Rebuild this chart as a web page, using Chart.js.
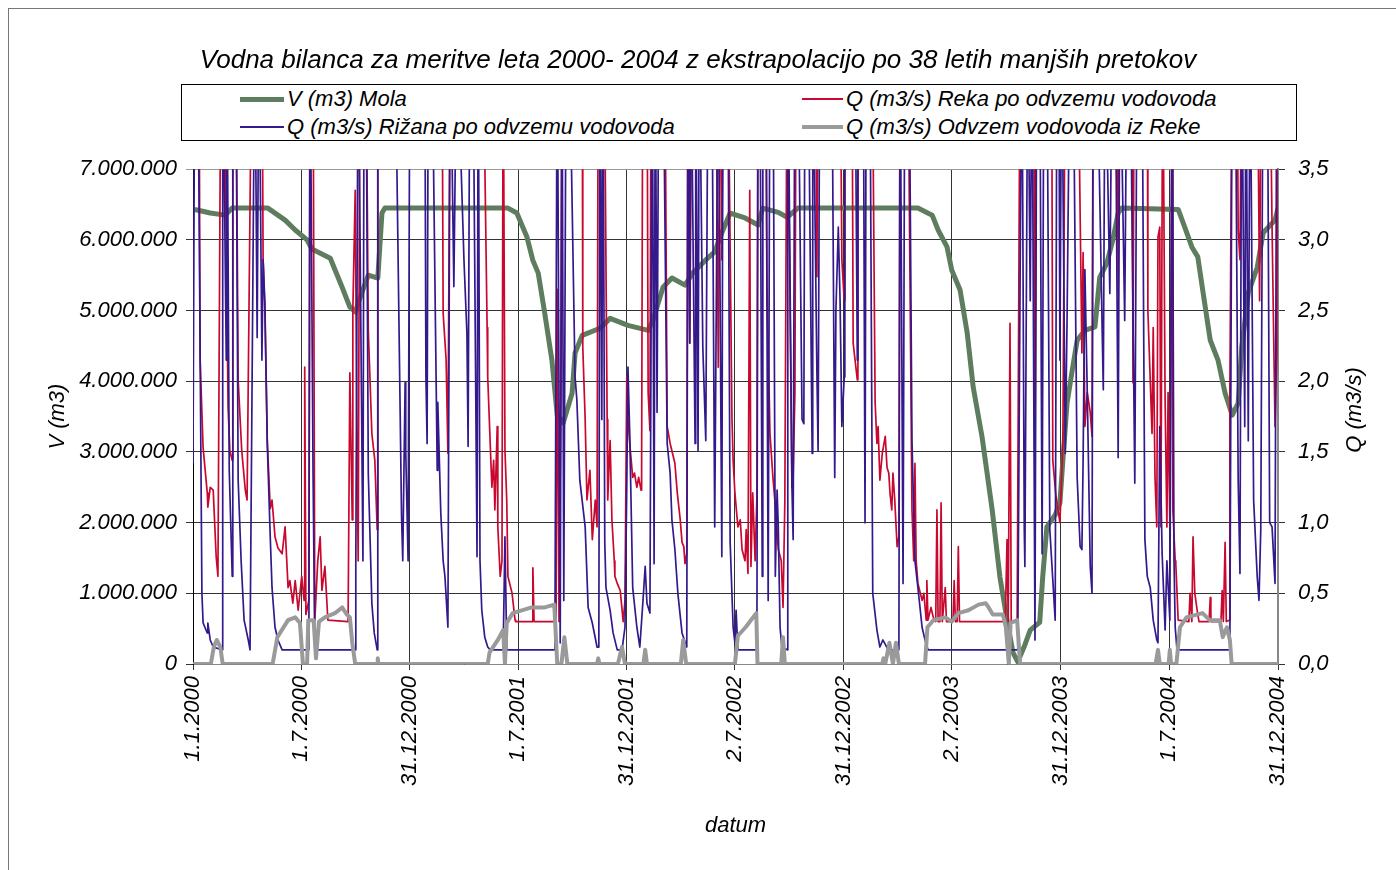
<!DOCTYPE html>
<html>
<head>
<meta charset="utf-8">
<script src="https://cdn.jsdelivr.net/npm/chart.js@4.4.0/dist/chart.umd.min.js"></script>
<style>
  body { margin: 0; background: #fff; overflow: hidden; }
  #wrap { position: relative; width: 1396px; height: 870px; }
  #frame { position: absolute; left: 8px; top: 8px; width: 1500px; height: 1000px; border: 1px solid #777; }
  #legend { position: absolute; left: 181px; top: 84px; width: 1114px; height: 55px; border: 1px solid #000; background: #fff;
            font: italic 22px "Liberation Sans", Arial, sans-serif; }
  .item { position: absolute; height: 26px; line-height: 26px; white-space: nowrap; }
  .swatch { position: absolute; }
  canvas { position: absolute; left: 0; top: 0; }
</style>
</head>
<body>
<div id="wrap">
  <div id="frame"></div>
  <canvas id="myChart" width="1396" height="870"></canvas>
  <div id="legend"></div>
</div>
<script>
// day 0 = 1.1.2000, day 1826 = 31.12.2004
const tickDays = [0, 182, 365, 547, 730, 912, 1095, 1277, 1460, 1643, 1826];
const tickLabels = ["1.1.2000", "1.7.2000", "31.12.2000", "1.7.2001", "31.12.2001", "2.7.2002",
                    "31.12.2002", "2.7.2003", "31.12.2003", "1.7.2004", "31.12.2004"];

const OFF = 4.5; // peaks above 3,5 m3/s, clipped at the top of the plot

// V (m3) Mola  [day, m3]
const molaV = [[3,6430000],[29,6380000],[54,6350000],[66,6450000],[126,6450000],[155,6280000],[172,6140000],[192,6000000],
  [200,5870000],[231,5740000],[251,5330000],[264,5050000],[273,4980000],[284,5250000],[295,5500000],[311,5460000],
  [318,6380000],[323,6450000],[530,6450000],[545,6380000],[562,6040000],[572,5710000],[581,5530000],[592,4960000],
  [604,4300000],[613,3520000],[623,3410000],[638,3830000],[643,4400000],[655,4650000],[685,4750000],[702,4890000],
  [732,4790000],[766,4720000],[774,4860000],[791,5330000],[806,5460000],[828,5360000],[841,5530000],[862,5710000],
  [878,5830000],[890,6100000],[904,6380000],[929,6310000],[951,6210000],[959,6450000],[985,6390000],[1000,6320000],
  [1018,6450000],[1220,6450000],[1244,6350000],[1254,6140000],[1269,5900000],[1277,5570000],[1291,5290000],
  [1303,4680000],[1313,3920000],[1328,3210000],[1345,2180000],[1358,1230000],[1370,620000],[1380,160000],[1388,30000],
  [1400,270000],[1409,480000],[1425,590000],[1430,1230000],[1437,1940000],[1451,2110000],[1459,2280000],[1464,2890000],
  [1471,3690000],[1479,4120000],[1488,4580000],[1501,4720000],[1518,4770000],[1526,5470000],[1538,5670000],
  [1548,6000000],[1557,6380000],[1563,6450000],[1658,6430000],[1669,6180000],[1681,5900000],[1691,5760000],
  [1700,5250000],[1712,4580000],[1725,4300000],[1737,3830000],[1749,3520000],[1759,3690000],[1765,4480000],
  [1776,5250000],[1791,5610000],[1801,6100000],[1821,6280000],[1826,6450000]];

// Q (m3/s) Reka po odvzemu vodovoda
const rekaQ = [[0,OFF],[10,OFF],[12,2.15],[17,1.53],[24,1.21],[25,1.11],[29,1.25],[34,1.23],[39,0.76],[42,0.62],[47,OFF],
  [52,OFF],[59,1.82],[62,1.51],[66,1.44],[67,OFF],[72,OFF],[76,2.01],[82,1.51],[88,1.23],[91,1.16],[99,OFF],[116,OFF],
  [118,2.86],[121,2.50],[125,1.58],[130,1.10],[133,1.16],[138,0.90],[143,0.82],[150,0.78],[155,0.97],[160,0.54],
  [163,0.59],[168,0.43],[172,0.59],[177,0.38],[183,0.62],[187,0.45],[188,2.10],[190,0.35],[195,0.45],[197,OFF],
  [202,OFF],[205,0.31],[210,0.73],[214,0.90],[217,0.52],[222,0.69],[227,0.31],[261,0.30],[264,2.06],[268,1.02],
  [269,2.50],[273,3.35],[276,1.51],[278,0.73],[281,OFF],[291,OFF],[295,2.36],[301,1.63],[306,1.44],[310,0.95],
  [311,OFF],[419,OFF],[421,2.48],[426,2.15],[429,1.49],[433,OFF],[488,OFF],[495,2.38],[496,2.03],[500,1.58],
  [503,1.25],[506,1.44],[508,1.09],[512,1.68],[513,0.97],[517,0.62],[520,0.73],[522,OFF],[523,OFF],[525,1.51],
  [528,1.16],[530,0.62],[537,0.50],[542,0.31],[543,0.30],[571,0.30],[572,0.68],[574,0.30],[611,0.30],[613,2.65],
  [616,0.30],[619,1.87],[621,OFF],[655,OFF],[656,2.24],[660,1.73],[663,1.16],[668,1.37],[672,0.88],[677,1.16],
  [680,0.97],[682,OFF],[692,OFF],[697,1.73],[698,1.16],[702,1.58],[705,1.02],[709,0.73],[710,0.62],[714,0.57],
  [719,0.52],[724,0.30],[727,0.45],[730,2.03],[732,1.73],[735,1.56],[740,1.32],[743,1.35],[747,1.25],[750,1.32],
  [754,1.23],[755,1.37],[757,OFF],[764,OFF],[766,1.92],[769,1.65],[771,OFF],[794,OFF],[798,1.68],[803,1.56],
  [811,1.42],[815,1.21],[820,1.02],[823,0.86],[826,0.83],[828,0.71],[831,0.78],[833,OFF],[836,2.27],[840,OFF],
  [880,OFF],[884,2.10],[887,OFF],[890,2.86],[893,OFF],[900,OFF],[907,1.75],[909,1.44],[912,1.21],[917,0.97],
  [921,1.02],[924,0.81],[929,0.73],[931,0.95],[934,0.64],[937,3.35],[939,0.69],[942,1.21],[946,0.73],[949,1.18],
  [951,OFF],[964,OFF],[966,2.67],[971,1.63],[976,1.32],[981,1.07],[985,0.81],[990,0.73],[993,0.40],[996,1.14],
  [1000,OFF],[1008,1.25],[1010,1.32],[1013,1.92],[1015,OFF],[1048,OFF],[1050,2.74],[1052,OFF],[1089,OFF],
  [1092,2.86],[1096,2.57],[1097,OFF],[1109,OFF],[1111,2.27],[1118,2.01],[1119,OFF],[1143,OFF],[1148,1.85],
  [1151,1.56],[1153,1.68],[1156,1.30],[1160,1.49],[1165,1.61],[1168,1.39],[1171,1.35],[1173,1.21],[1176,1.09],
  [1178,1.35],[1181,1.16],[1185,0.83],[1188,0.90],[1190,OFF],[1203,OFF],[1210,1.09],[1213,0.73],[1215,1.42],
  [1217,0.73],[1220,0.57],[1227,0.45],[1230,0.50],[1234,0.31],[1235,0.59],[1237,0.31],[1242,0.40],[1247,0.31],
  [1250,0.30],[1252,1.09],[1254,0.30],[1257,0.30],[1259,1.14],[1261,0.30],[1266,0.54],[1268,0.30],[1279,0.30],
  [1281,0.59],[1283,0.30],[1286,0.30],[1288,0.83],[1290,0.30],[1367,0.30],[1370,0.88],[1372,0.30],[1373,0.30],
  [1375,2.41],[1377,0.30],[1387,0.30],[1392,OFF],[1415,OFF],[1417,1.09],[1419,OFF],[1445,OFF],[1447,1.44],
  [1452,1.20],[1459,1.00],[1464,1.58],[1468,OFF],[1489,OFF],[1496,2.20],[1498,2.91],[1501,1.68],[1505,1.92],
  [1510,1.78],[1513,1.61],[1515,OFF],[1555,OFF],[1557,2.62],[1559,OFF],[1580,OFF],[1582,1.99],[1584,OFF],
  [1606,OFF],[1607,2.50],[1614,1.63],[1616,2.38],[1619,1.32],[1622,0.97],[1624,3.02],[1627,3.09],[1629,0.97],
  [1632,OFF],[1636,1.87],[1639,0.97],[1641,1.92],[1644,0.97],[1648,OFF],[1649,1.09],[1653,0.73],[1654,0.71],
  [1658,0.31],[1676,0.30],[1678,0.50],[1681,0.30],[1683,0.90],[1686,0.50],[1690,0.38],[1693,0.30],[1710,0.30],
  [1712,0.47],[1713,0.30],[1730,0.30],[1732,0.52],[1734,0.30],[1735,0.30],[1737,0.86],[1739,0.30],[1744,0.31],
  [1745,1.94],[1749,OFF],[1757,OFF],[1759,3.07],[1762,2.86],[1765,OFF],[1791,OFF],[1795,2.57],[1798,OFF],
  [1812,OFF],[1816,3.09],[1821,1.68],[1824,2.20],[1826,OFF]];

// Q (m3/s) Rižana po odvzemu vodovoda
const rizanaQ = [[0,1.42],[3,OFF],[8,OFF],[15,0.50],[17,0.29],[24,0.22],[25,0.29],[29,0.17],[34,0.12],[49,0.10],[50,OFF],
  [56,2.15],[57,OFF],[61,1.37],[66,0.62],[67,OFF],[72,OFF],[76,1.30],[81,0.73],[86,0.31],[93,0.17],[96,0.10],[104,OFF],
  [108,2.31],[111,OFF],[116,2.15],[118,2.86],[121,2.55],[125,1.56],[130,0.90],[133,0.54],[138,0.26],[143,0.17],
  [150,0.10],[195,0.10],[197,OFF],[202,1.37],[205,0.10],[273,0.10],[274,0.69],[278,OFF],[286,0.73],[288,OFF],
  [291,OFF],[295,1.35],[301,0.43],[305,0.22],[310,0.10],[311,OFF],[340,OFF],[351,1.04],[353,0.73],[357,1.99],
  [358,1.51],[362,0.73],[365,OFF],[390,OFF],[392,2.03],[394,1.56],[396,OFF],[402,OFF],[411,1.37],[412,1.85],
  [417,1.07],[421,0.73],[424,0.62],[429,0.26],[433,OFF],[439,2.67],[444,OFF],[456,2.86],[461,2.34],[463,1.54],
  [466,OFF],[471,OFF],[478,0.76],[480,OFF],[483,0.73],[486,0.38],[491,0.19],[496,0.12],[500,0.10],[522,0.10],
  [525,0.90],[528,0.10],[609,0.10],[613,OFF],[618,0.15],[621,OFF],[624,0.45],[628,OFF],[633,OFF],[643,2.03],
  [646,1.87],[651,1.30],[660,0.97],[665,0.40],[672,0.29],[680,0.12],[683,0.12],[685,OFF],[688,1.73],[690,OFF],
  [693,0.86],[695,0.54],[702,0.38],[707,0.22],[714,0.10],[722,0.10],[727,0.26],[730,1.25],[732,2.10],[735,1.63],
  [740,0.54],[747,0.26],[752,0.12],[757,0.43],[761,0.69],[764,0.43],[769,0.36],[773,OFF],[776,0.71],[778,OFF],
  [781,1.78],[784,OFF],[791,OFF],[798,1.56],[803,1.35],[806,1.02],[811,0.81],[816,0.50],[823,0.22],[831,0.12],
  [833,OFF],[836,2.27],[838,OFF],[845,1.56],[846,OFF],[850,1.51],[852,OFF],[858,2.24],[863,1.58],[867,OFF],
  [873,OFF],[878,0.97],[884,OFF],[890,0.76],[892,OFF],[900,OFF],[904,0.86],[909,0.26],[912,0.15],[914,0.38],
  [917,0.10],[949,0.10],[951,OFF],[954,OFF],[958,0.62],[959,OFF],[964,OFF],[968,0.45],[971,OFF],[976,OFF],
  [980,0.62],[983,1.23],[985,0.97],[988,0.26],[991,0.12],[1000,0.10],[1001,OFF],[1008,1.25],[1010,0.88],
  [1013,OFF],[1018,OFF],[1025,1.73],[1028,1.70],[1030,OFF],[1035,OFF],[1042,1.49],[1043,OFF],[1050,2.06],
  [1052,1.51],[1055,OFF],[1075,OFF],[1080,1.32],[1082,2.50],[1086,3.09],[1089,2.57],[1092,1.68],[1096,2.03],
  [1097,OFF],[1114,OFF],[1118,2.15],[1119,OFF],[1128,OFF],[1131,1.00],[1133,OFF],[1139,OFF],[1144,0.50],
  [1151,0.24],[1156,0.12],[1161,0.17],[1170,0.10],[1188,0.10],[1190,OFF],[1195,0.57],[1198,OFF],[1205,OFF],
  [1210,1.58],[1215,0.73],[1220,0.54],[1227,0.26],[1232,0.17],[1237,0.10],[1388,0.10],[1392,2.74],[1395,OFF],
  [1399,0.95],[1400,0.69],[1405,OFF],[1409,2.57],[1412,OFF],[1417,0.17],[1420,OFF],[1425,OFF],[1429,0.78],
  [1432,OFF],[1437,OFF],[1442,0.95],[1451,0.31],[1454,OFF],[1457,OFF],[1459,2.15],[1462,OFF],[1468,1.49],
  [1471,2.43],[1476,OFF],[1481,OFF],[1488,1.32],[1493,0.83],[1496,0.81],[1498,1.44],[1501,2.79],[1505,1.92],
  [1510,0.69],[1513,0.50],[1515,OFF],[1521,OFF],[1530,2.38],[1532,1.94],[1535,OFF],[1543,2.62],[1547,OFF],
  [1552,OFF],[1557,1.46],[1560,OFF],[1568,2.43],[1572,OFF],[1577,OFF],[1585,1.28],[1589,OFF],[1597,OFF],
  [1602,0.88],[1606,0.62],[1611,0.54],[1616,0.31],[1622,0.17],[1624,0.15],[1627,1.68],[1631,0.78],[1636,0.24],
  [1639,0.73],[1644,0.31],[1648,OFF],[1651,0.73],[1653,0.26],[1656,0.10],[1745,0.10],[1749,OFF],[1754,OFF],
  [1759,1.30],[1762,0.64],[1765,OFF],[1770,1.68],[1772,OFF],[1776,1.58],[1779,OFF],[1785,1.16],[1791,0.62],
  [1794,0.45],[1797,0.95],[1801,OFF],[1808,OFF],[1812,1.00],[1816,0.97],[1821,0.57],[1824,OFF],[1826,OFF]];

// Q (m3/s) Odvzem vodovoda iz Reke
const odvzemQ = [[0,0],[30,0],[35,0.12],[40,0.17],[46,0.12],[50,0],[134,0],[142,0.19],[160,0.31],[172,0.33],[180,0.29],
  [185,0],[192,0],[194,0.31],[203,0.31],[207,0.04],[212,0.30],[222,0.33],[239,0.36],[251,0.40],[259,0.35],[264,0.33],
  [268,0.15],[273,0],[310,0],[311,0.04],[312,0],[496,0],[499,0.08],[513,0.17],[522,0.24],[525,0],[528,0.29],
  [538,0.36],[570,0.40],[592,0.40],[608,0.42],[613,0],[620,0],[625,0.19],[630,0],[680,0],[682,0.04],[684,0],
  [715,0],[722,0.12],[727,0],[758,0],[761,0.10],[764,0],[821,0],[825,0.17],[830,0],[912,0],[917,0.20],[930,0.26],
  [948,0.36],[950,0],[990,0],[993,0.19],[996,0],[1160,0],[1162,0.04],[1165,0],[1172,0.15],[1178,0],[1183,0.15],
  [1188,0],[1232,0],[1236,0.26],[1246,0.31],[1266,0.33],[1277,0.30],[1288,0.36],[1305,0.38],[1322,0.42],
  [1334,0.43],[1339,0.40],[1346,0.35],[1363,0.35],[1368,0.26],[1373,0],[1376,0.29],[1387,0.31],[1392,0],
  [1620,0],[1624,0.10],[1627,0],[1642,0],[1644,0.10],[1646,0],[1655,0],[1661,0.26],[1672,0.33],[1699,0.36],
  [1711,0.31],[1728,0.31],[1733,0.19],[1740,0.26],[1745,0.17],[1748,0],[1826,0]];

const FONT = '"Liberation Sans", Arial, sans-serif';
const toXY = arr => arr.map(p => ({ x: p[0], y: p[1] }));

// right axis title reads bottom-to-top, so draw it ourselves
const rightTitle = {
  id: 'rightTitle',
  afterDraw(chart) {
    const ctx = chart.ctx;
    const s = chart.scales.yQ;
    ctx.save();
    ctx.translate(s.right - 41, 410);
    ctx.rotate(-Math.PI / 2);
    ctx.font = 'italic 22px ' + FONT;
    ctx.fillStyle = '#000';
    ctx.textAlign = 'center';
    ctx.textBaseline = 'middle';
    ctx.fillText('Q (m3/s)', 0, 0);
    ctx.restore();
  }
};

const ctx = document.getElementById('myChart').getContext('2d');
const myChart = new Chart(ctx, {
  type: 'line',
  data: {
    datasets: [
      { label: 'V (m3) Mola', data: toXY(molaV), yAxisID: 'yV', borderColor: '#5e7d5e', borderWidth: 5, order: 4 },
      { label: 'Q (m3/s) Reka po odvzemu vodovoda', data: toXY(rekaQ), yAxisID: 'yQ', borderColor: '#c8082e', borderWidth: 1.7, order: 3 },
      { label: 'Q (m3/s) Rižana po odvzemu vodovoda', data: toXY(rizanaQ), yAxisID: 'yQ', borderColor: '#33198c', borderWidth: 1.7, order: 2 },
      { label: 'Q (m3/s) Odvzem vodovoda iz Reke', data: toXY(odvzemQ), yAxisID: 'yQ', borderColor: '#9a9a9a', borderWidth: 4, order: 1 }
    ]
  },
  options: {
    responsive: false,
    animation: false,
    devicePixelRatio: 1,
    elements: { point: { radius: 0 }, line: { tension: 0, borderJoinStyle: 'round' } },
    layout: { padding: 0 },
    plugins: {
      legend: { display: false },
      tooltip: { enabled: false },
      title: {
        display: true,
        text: 'Vodna bilanca za meritve leta 2000- 2004 z ekstrapolacijo po 38 letih manjših pretokov',
        color: '#000',
        font: { family: FONT, size: 26, style: 'italic', weight: 'normal' },
        padding: { top: 45, bottom: 93 }
      }
    },
    scales: {
      x: {
        type: 'linear',
        min: 0, max: 1826,
        afterBuildTicks: s => { s.ticks = tickDays.map(v => ({ value: v })); },
        afterFit: s => { s.height = 206; },
        ticks: {
          autoSkip: false, minRotation: 90, maxRotation: 90, padding: 6, color: '#000',
          font: { family: FONT, size: 22, style: 'italic' },
          callback: (v, i) => tickLabels[i]
        },
        grid: { color: '#333', lineWidth: 1, tickLength: 6 },
        border: { color: '#888', width: 1 },
        title: { display: true, text: 'datum', color: '#000', font: { family: FONT, size: 22, style: 'italic' }, padding: { bottom: 31 } }
      },
      yV: {
        position: 'left',
        min: 0, max: 7000000,
        afterBuildTicks: s => { s.ticks = [0,1,2,3,4,5,6,7].map(v => ({ value: v * 1000000 })); },
        afterFit: s => { s.width = 193; },
        ticks: {
          color: '#000', padding: 9,
          font: { family: FONT, size: 22, style: 'italic' },
          callback: v => v.toLocaleString('de-DE')
        },
        grid: { color: ctx => ctx.tick && ctx.tick.value === 7000000 ? '#999' : '#333', tickLength: 7 },
        border: { color: '#000', width: 1 },
        title: { display: true, text: 'V (m3)', color: '#000', font: { family: FONT, size: 22, style: 'italic' }, padding: { top: 45 } }
      },
      yQ: {
        position: 'right',
        min: 0, max: 3.5,
        afterBuildTicks: s => { s.ticks = [0,0.5,1,1.5,2,2.5,3,3.5].map(v => ({ value: v })); },
        afterFit: s => { s.width = 118; },
        ticks: {
          color: '#000', padding: 13,
          font: { family: FONT, size: 22, style: 'italic' },
          callback: v => v.toFixed(1).replace('.', ',')
        },
        grid: { drawOnChartArea: false, color: '#333', tickLength: 7 },
        border: { color: '#888', width: 2 }
      }
    }
  },
  plugins: [rightTitle]
});

// legend box laid out like the original: two columns, two rows
const legendSlots = [
  { ds: 0, left: 58, top: 1, w: 44 },
  { ds: 1, left: 620, top: 1, w: 41 },
  { ds: 2, left: 58, top: 29, w: 44 },
  { ds: 3, left: 620, top: 29, w: 41 }
];
const legendBox = document.getElementById('legend');
legendSlots.forEach(slot => {
  const d = myChart.data.datasets[slot.ds];
  const item = document.createElement('div');
  item.className = 'item';
  item.style.left = slot.left + 'px';
  item.style.top = slot.top + 'px';
  const sw = document.createElement('div');
  sw.className = 'swatch';
  sw.style.left = '0px';
  sw.style.width = slot.w + 'px';
  sw.style.height = d.borderWidth + 'px';
  sw.style.top = (13 - d.borderWidth / 2) + 'px';
  sw.style.background = d.borderColor;
  const txt = document.createElement('span');
  txt.style.position = 'absolute';
  txt.style.left = (slot.w + 3) + 'px';
  txt.textContent = d.label;
  item.appendChild(sw);
  item.appendChild(txt);
  legendBox.appendChild(item);
});
</script>
</body>
</html>
